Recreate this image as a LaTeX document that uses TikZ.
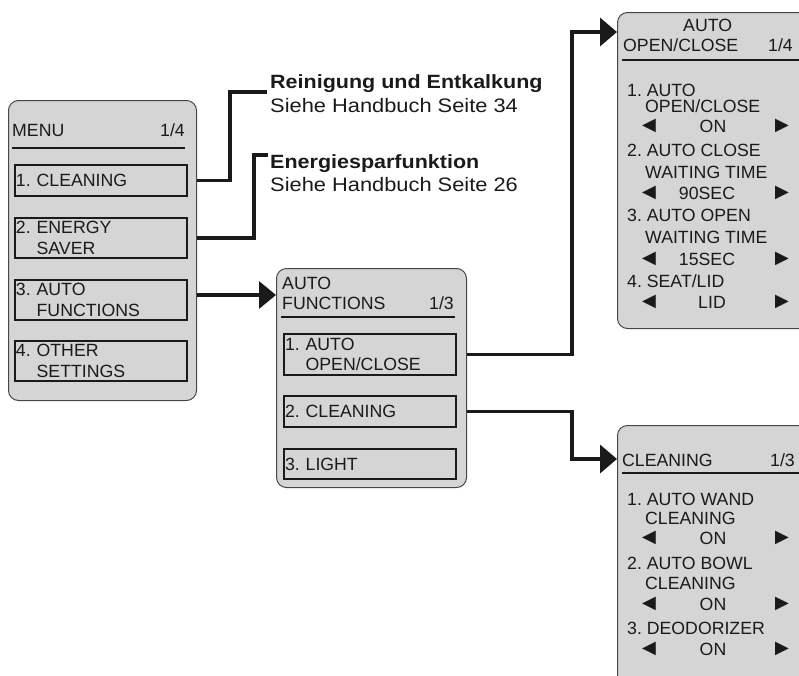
\documentclass[tikz,border=0pt]{standalone}
\usepackage{fontspec}
\setmainfont{Liberation Sans}
\newfontfamily\notefont[FakeStretch=1.12]{Liberation Sans}
\usetikzlibrary{arrows.meta}
\definecolor{PanelGrey}{RGB}{213, 213, 213}
\definecolor{FrameGrey}{RGB}{70, 70, 70}
\definecolor{InkBlack}{RGB}{26, 26, 26}
\frenchspacing

\tikzset{
  panel/.style={draw=FrameGrey, line width=1pt, fill=PanelGrey, rounded corners=10pt,
    anchor=north west, inner sep=0pt},
  itembox/.style={draw=InkBlack, line width=2pt, fill=PanelGrey, anchor=north west,
    align=left, text width=169pt, inner xsep=1.5pt, inner ysep=0pt, text=InkBlack,
    font=\fontsize{17.7}{20.5}\selectfont},
  lbl/.style={anchor=base west, inner sep=0pt, text=InkBlack, font=\fontsize{17.7}{20.5}\selectfont},
  rlbl/.style={lbl, anchor=base east},
  val/.style={lbl, anchor=base},
  sel/.style={lbl, anchor=base, font=\fontsize{23}{23}\selectfont},
  hline/.style={draw=InkBlack, line width=2pt},
  conn/.style={draw=InkBlack, line width=3.5pt},
  notetitle/.style={anchor=base west, inner sep=0pt, text=InkBlack, font=\notefont\bfseries\fontsize{19.2}{22}\selectfont},
  notesub/.style={anchor=base west, inner sep=0pt, text=InkBlack, font=\notefont\fontsize{19.5}{22}\selectfont}
}

\begin{document}
\begin{tikzpicture}[x=1pt, y=-1pt]
    \useasboundingbox (0,0) rectangle (799,675);
    \clip (0,0) rectangle (799,675);

    % Hauptmenue
    \node[panel, minimum width=188pt, minimum height=300pt] (menu) at (8,100) {};
    \node[lbl] (menuhead) at (12,136) {MENU};
    \node[rlbl] (menupage) at (185,136) {1/4};
    \draw[hline] (12,148) -- (185,148);
    \node[itembox, minimum height=31pt] (m1) at (13.5,164) {1. CLEANING};
    \node[itembox, minimum height=40pt] (m2) at (13.5,217) {2. ENERGY\\\phantom{2. }SAVER};
    \node[itembox, minimum height=40pt] (m3) at (13.5,279) {3. AUTO\\\phantom{3. }FUNCTIONS};
    \node[itembox, minimum height=40pt] (m4) at (13.5,340) {4. OTHER\\\phantom{4. }SETTINGS};

    % Hinweise
    \node[notetitle] (reinigung) at (270,88) {Reinigung und Entkalkung};
    \node[notesub] (seite34) at (270,112) {Siehe Handbuch Seite 34};
    \node[notetitle] (energie) at (270,168) {Energiesparfunktion};
    \node[notesub] (seite26) at (270,191) {Siehe Handbuch Seite 26};
    \coordinate (jReinigung) at (267,92);
    \coordinate (jEnergie) at (268,155);

    % Auto Functions
    \node[panel, minimum width=190pt, minimum height=219pt] (autofn) at (276,268) {};
    \node[lbl] (afhead1) at (282,289) {AUTO};
    \node[lbl] (afhead2) at (282,309) {FUNCTIONS};
    \node[rlbl] (afpage) at (454,309) {1/3};
    \draw[hline] (281,317) -- (455,317);
    \node[itembox, minimum height=41pt] (a1) at (282.5,333) {1. AUTO\\\phantom{1. }OPEN/CLOSE};
    \node[itembox, minimum height=31pt] (a2) at (282.5,395) {2. CLEANING};
    \node[itembox, minimum height=30pt] (a3) at (282.5,448) {3. LIGHT};
    \coordinate (afIn) at (276,295);

    % Auto Open/Close
    \node[panel, minimum width=220pt, minimum height=316pt] (openclose) at (617,12) {};
    \node[lbl] (ochead1) at (683,31) {AUTO};
    \node[lbl] (ochead2) at (623,51) {OPEN/CLOSE};
    \node[rlbl] (ocpage) at (793,51) {1/4};
    \draw[hline] (622,60) -- (799,60);
    \node[lbl] (oc1a) at (627,96) {1. AUTO};
    \node[lbl] (oc1b) at (645,112) {OPEN/CLOSE};
    \node[sel] (oc1l) at (649,132) {◄};
    \node[val] (oc1v) at (713,132) {ON};
    \node[sel] (oc1r) at (782,132) {►};
    \node[lbl] (oc2a) at (627,156) {2. AUTO CLOSE};
    \node[lbl] (oc2b) at (645,178) {WAITING TIME};
    \node[sel] (oc2l) at (649,199) {◄};
    \node[val] (oc2v) at (707,199) {90SEC};
    \node[sel] (oc2r) at (782,199) {►};
    \node[lbl] (oc3a) at (627,221) {3. AUTO OPEN};
    \node[lbl] (oc3b) at (645,243) {WAITING TIME};
    \node[sel] (oc3l) at (649,265) {◄};
    \node[val] (oc3v) at (707,265) {15SEC};
    \node[sel] (oc3r) at (782,265) {►};
    \node[lbl] (oc4a) at (627,287) {4. SEAT/LID};
    \node[sel] (oc4l) at (649,308) {◄};
    \node[val] (oc4v) at (712,308) {LID};
    \node[sel] (oc4r) at (782,308) {►};
    \coordinate (ocIn) at (617,32);

    % Cleaning
    \node[panel, minimum width=220pt, minimum height=300pt] (cleaning) at (617,425) {};
    \node[lbl] (clhead) at (622,466) {CLEANING};
    \node[rlbl] (clpage) at (795,466) {1/3};
    \draw[hline] (622,473) -- (799,473);
    \node[lbl] (cl1a) at (627,505) {1. AUTO WAND};
    \node[lbl] (cl1b) at (645,524) {CLEANING};
    \node[sel] (cl1l) at (649,544) {◄};
    \node[val] (cl1v) at (713,544) {ON};
    \node[sel] (cl1r) at (782,544) {►};
    \node[lbl] (cl2a) at (627,569) {2. AUTO BOWL};
    \node[lbl] (cl2b) at (645,589) {CLEANING};
    \node[sel] (cl2l) at (649,610) {◄};
    \node[val] (cl2v) at (713,610) {ON};
    \node[sel] (cl2r) at (782,610) {►};
    \node[lbl] (cl3a) at (627,634) {3. DEODORIZER};
    \node[sel] (cl3l) at (649,655) {◄};
    \node[val] (cl3v) at (713,655) {ON};
    \node[sel] (cl3r) at (782,655) {►};
    \coordinate (clIn) at (617,459);

    % Verbindungen
    \draw[conn] (m1.east -| menu.east) -- ++(33,0) |- (jReinigung);
    \draw[conn] (m2.east -| menu.east) -- ++(57,0) |- (jEnergie);
    \draw[conn, -{Triangle[length=17pt, width=27pt]}] (afIn -| menu.east) -- (afIn);
    \draw[conn, -{Triangle[length=17pt, width=28pt]}] (a1.east -| autofn.east) -- ++(105,0) |- (ocIn);
    \draw[conn, -{Triangle[length=17pt, width=28pt]}] (a2.east -| autofn.east) -- ++(105,0) |- (clIn);
\end{tikzpicture}
\end{document}
